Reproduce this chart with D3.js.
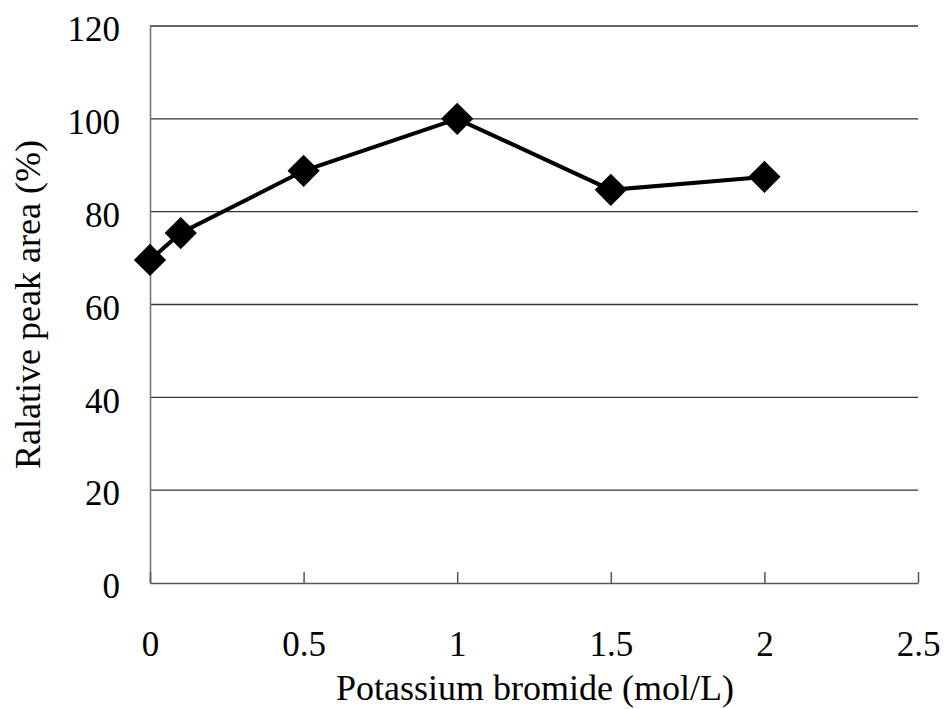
<!DOCTYPE html>
<html>
<head>
<meta charset="utf-8">
<script src="https://cdn.jsdelivr.net/npm/d3@7"></script>
<style>
  body { margin: 0; background: #fff; }
  text { font-family: "Liberation Serif", "Times New Roman", serif; fill: #000; }
</style>
</head>
<body>
<div id="chart"></div>
<script>
// data
const kbr = [0, 0.1, 0.5, 1, 1.5, 2];
const peakArea = [69.6, 75.4, 88.8, 100, 84.7, 87.5];
const xTicks = [0, 0.5, 1, 1.5, 2, 2.5];
const yTicks = [0, 20, 40, 60, 80, 100, 120];

const width = 946, height = 709;
const plotL = 150, plotR = 918, plotT = 26, plotB = 583;

const svg = d3.select("#chart").append("svg")
  .attr("width", width)
  .attr("height", height);

const x = d3.scaleLinear().domain([0, 2.5]).range([plotL, plotR]);
const y = d3.scaleLinear().domain([0, 120]).range([plotB, plotT]);

// horizontal gridlines (the 120 one doubles as the top border)
svg.append("g")
  .selectAll("line")
  .data(yTicks.filter(d => d > 0))
  .enter().append("line")
  .attr("x1", plotL).attr("x2", plotR)
  .attr("y1", d => y(d)).attr("y2", d => y(d))
  .attr("stroke", "#333")
  .attr("stroke-width", 1.3);

// y axis
const yAxis = svg.append("g")
  .attr("transform", `translate(${plotL},0)`)
  .call(d3.axisLeft(y).tickValues(yTicks).tickSize(0).tickPadding(30));
yAxis.attr("font-family", null);
yAxis.select(".domain").attr("stroke", "#777").attr("stroke-width", 1.6);
yAxis.selectAll("text")
  .attr("font-size", 35)
  .attr("dy", "0.42em");

// x axis, ticks pointing inward
const xAxis = svg.append("g")
  .attr("transform", `translate(0,${plotB})`)
  .call(d3.axisBottom(x).tickValues(xTicks).tickFormat(d3.format("")).tickSizeInner(-11).tickSizeOuter(0).tickPadding(48));
xAxis.attr("font-family", null);
xAxis.select(".domain").attr("stroke", "#555").attr("stroke-width", 1.5);
xAxis.selectAll(".tick line").attr("stroke", "#555").attr("stroke-width", 1.5);
xAxis.selectAll("text")
  .attr("font-size", 35);

// series
const pts = kbr.map((k, i) => ({k: k, v: peakArea[i]}));

svg.append("path")
  .datum(pts)
  .attr("fill", "none")
  .attr("stroke", "#000")
  .attr("stroke-width", 4)
  .attr("d", d3.line().x(d => x(d.k)).y(d => y(d.v)));

svg.append("g")
  .selectAll("path")
  .data(pts)
  .enter().append("path")
  .attr("d", d3.symbol(d3.symbolSquare, 520))
  .attr("transform", d => `translate(${x(d.k)},${y(d.v)}) rotate(45)`)
  .attr("fill", "#000");

// axis titles
svg.append("text")
  .attr("x", 535)
  .attr("y", 700)
  .attr("text-anchor", "middle")
  .attr("font-size", 36)
  .text("Potassium bromide (mol/L)");

svg.append("text")
  .attr("transform", `translate(40,${(plotT + plotB) / 2}) rotate(-90)`)
  .attr("text-anchor", "middle")
  .attr("font-size", 36)
  .text("Ralative peak area (%)");
</script>
</body>
</html>
